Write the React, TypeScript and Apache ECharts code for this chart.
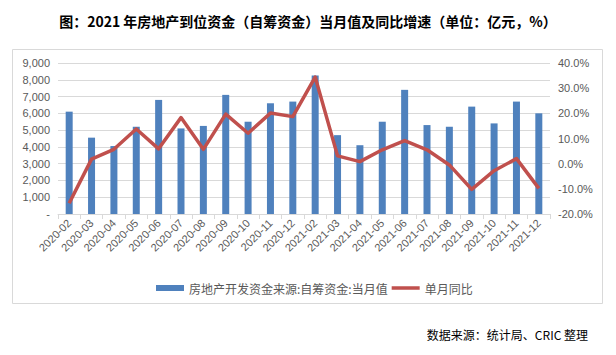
import React, { useEffect, useRef } from "react";
import * as echarts from "echarts";

const categories = [
  "2020-02", "2020-03", "2020-04", "2020-05", "2020-06", "2020-07", "2020-08",
  "2020-09", "2020-10", "2020-11", "2020-12", "2021-02", "2021-03", "2021-04",
  "2021-05", "2021-06", "2021-07", "2021-08", "2021-09", "2021-10", "2021-11", "2021-12",
];
const monthlyValue = [
  6100, 4550, 4050, 5200, 6800, 5100, 5250, 7100, 5500, 6600, 6700,
  8250, 4700, 4100, 5500, 7400, 5300, 5200, 6400, 5400, 6700, 6000,
];
const yoyGrowth = [
  -15.7, 1.8, 5.7, 13.8, 5.9, 18.3, 5.7, 19.7, 12.1, 20.1, 18.7,
  34.4, 3.1, 0.8, 5.5, 9.2, 5.5, -0.5, -10.2, -2.8, 2.0, -9.8,
];
const barName = "房地产开发资金来源:自筹资金:当月值";
const lineName = "单月同比";
const titleText = "图：2021 年房地产到位资金（自筹资金）当月值及同比增速（单位：亿元，%）";
const sourceText = "数据来源：统计局、CRIC 整理";

export default function App() {
  const ref = useRef<HTMLDivElement>(null);
  useEffect(() => {
    if (!ref.current) return;
    const chart = echarts.init(ref.current, null, { renderer: "svg" });
    const axisFont = "'Liberation Sans', Arial, sans-serif";
    chart.setOption({
      animation: false,
      backgroundColor: "#ffffff",
      title: {
        text: titleText,
        left: "center",
        top: 9,
        textStyle: {
          fontFamily: "'Noto Sans CJK SC', sans-serif",
          fontSize: 14,
          fontWeight: "bold",
          color: "#000000",
        },
      },
      grid: { left: 58, right: 66, top: 63, bottom: 141, containLabel: false },
      legend: {
        left: 151,
        top: 277,
        itemWidth: 28,
        itemHeight: 6,
        itemGap: 4,
        textStyle: {
          fontFamily: "'Noto Sans CJK SC', sans-serif",
          fontSize: 12,
          color: "#595959",
        },
        data: [
          { name: barName, icon: "rect" },
          {
            name: lineName,
            icon: "path://M0,0 L28,0 L28,0 Z M0,1.2 L28,1.2 L28,4.8 L0,4.8 Z M0,6 L28,6 L28,6 Z",
          },
        ],
      },
      xAxis: {
        type: "category",
        data: categories,
        boundaryGap: true,
        axisLine: { lineStyle: { color: "#D9D9D9", width: 1 } },
        axisTick: { show: true, length: 5, lineStyle: { color: "#D9D9D9" } },
        axisLabel: {
          rotate: 45,
          interval: 0,
          margin: 7,
          fontSize: 11,
          fontFamily: axisFont,
          color: "#595959",
        },
      },
      yAxis: [
        {
          type: "value",
          min: 0,
          max: 9000,
          interval: 1000,
          axisLine: { show: false },
          axisTick: { show: false },
          splitLine: { lineStyle: { color: "#D9D9D9", width: 1 } },
          axisLabel: {
            margin: 8,
            fontSize: 11,
            fontFamily: axisFont,
            color: "#595959",
            formatter: (v: number) =>
              v === 0 ? "-" : v.toLocaleString("en-US"),
          },
        },
        {
          type: "value",
          min: -20,
          max: 40,
          interval: 10,
          axisLine: { show: false },
          axisTick: { show: false },
          splitLine: { show: false },
          axisLabel: {
            margin: 8,
            fontSize: 11,
            fontFamily: axisFont,
            color: "#595959",
            formatter: (v: number) => v.toFixed(1) + "%",
          },
        },
      ],
      series: [
        {
          name: barName,
          type: "bar",
          data: monthlyValue,
          barWidth: 7,
          itemStyle: { color: "#4F81BD" },
        },
        {
          name: lineName,
          type: "line",
          yAxisIndex: 1,
          data: yoyGrowth,
          symbol: "none",
          showSymbol: false,
          lineStyle: { color: "#C0504D", width: 3.5, join: "round" },
          itemStyle: { color: "#C0504D" },
        },
      ],
      graphic: [
        {
          type: "rect",
          shape: { x: 12.5, y: 49.5, width: 590, height: 254 },
          style: { fill: "none", stroke: "#D9D9D9", lineWidth: 1 },
          silent: true,
          z: -1,
        },
        {
          type: "text",
          right: 28,
          top: 328,
          style: {
            text: sourceText,
            fontFamily: "'Noto Sans CJK SC', sans-serif",
            fontSize: 12,
            fill: "#000000",
          },
        },
      ],
    });
    return () => chart.dispose();
  }, []);
  return (
    <div
      ref={ref}
      style={{ position: "fixed", left: 0, top: 0, width: 616, height: 355 }}
    />
  );
}
